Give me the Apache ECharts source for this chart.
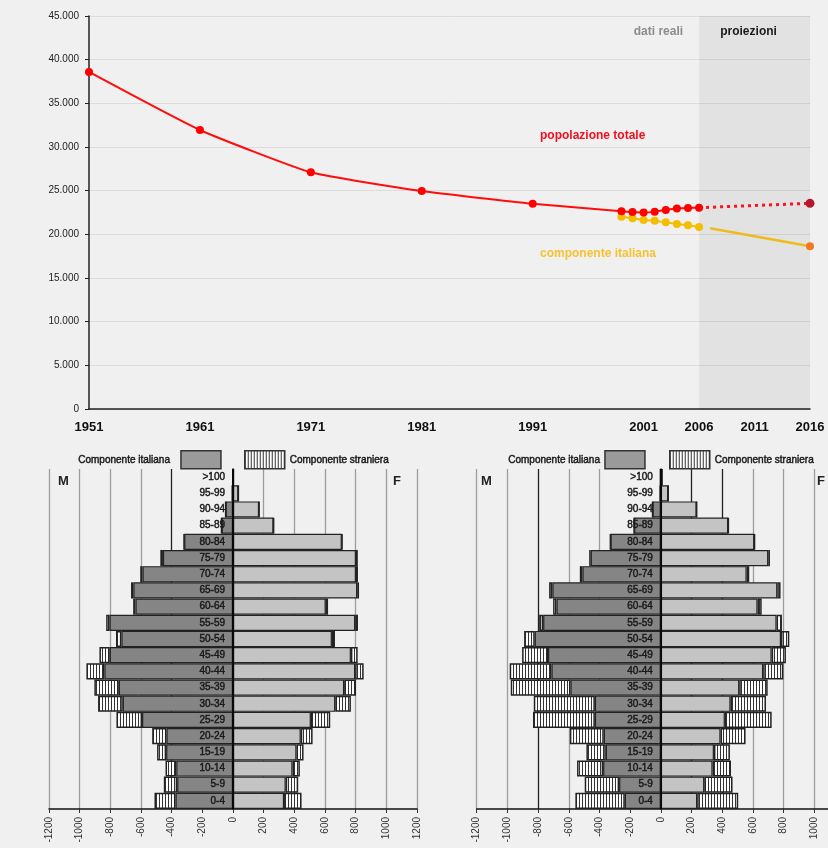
<!DOCTYPE html>
<html><head><meta charset="utf-8">
<script src="https://cdn.jsdelivr.net/npm/echarts@6/dist/echarts.min.js"></script>
<style>html,body{margin:0;padding:0;background:#f0f0f0;}#c{width:828px;height:848px;}</style>
</head><body><div id="c"></div>
<script>
// ---- top chart data ----
const years = [1951, 1961, 1971, 1981, 1991, 1999, 2000, 2001, 2002, 2003, 2004, 2005, 2006];
const totalPop = [38600, 31950, 27100, 24950, 23500, 22650, 22550, 22500, 22600, 22800, 22950, 23020, 23050];
const italianYears = [1999, 2000, 2001, 2002, 2003, 2004, 2005, 2006];
const italianPop = [22020, 21830, 21640, 21560, 21370, 21180, 21030, 20840];
const totalProjYears = [2006, 2016];
const totalProj = [23050, 23550];
const italianProjYears = [2007, 2016];
const italianProj = [20700, 18630];
const yearTicks = [1951, 1961, 1971, 1981, 1991, 2001, 2006, 2011, 2016];

// ---- pyramids (bottom 0-4 to top >100) ----
const ageGroups = ['0-4','5-9','10-14','15-19','20-24','25-29','30-34','35-39','40-44','45-49','50-54','55-59','60-64','65-69','70-74','75-79','80-84','85-89','90-94','95-99','>100'];
// left pyramid
const m1Ita = [375,364,370,436,434,593,719,745,839,804,728,805,636,650,590,457,318,74,48,5,1];
const m1For = [137,87,70,59,93,167,161,159,117,67,35,22,15,15,15,17,3,2,0,0,0];
const f1Ita = [333,344,388,414,442,508,667,725,797,769,645,797,605,810,802,802,710,264,170,35,2];
const f1For = [114,81,48,46,77,126,102,77,55,44,20,18,15,12,13,12,3,2,1,0,0];
// right pyramid
const m2Ita = [235,272,376,359,372,430,430,589,713,735,822,767,680,707,511,457,328,174,54,5,3];
const m2For = [322,224,170,126,221,403,398,389,272,169,69,26,22,21,17,10,2,1,0,0,0];
const f2Ita = [237,283,337,346,389,417,454,511,667,722,783,754,630,759,559,700,609,439,233,48,8];
const f2For = [267,184,120,104,163,305,231,185,131,93,54,35,27,21,17,11,3,2,1,0,0];

function stripeCanvas(){
  const c = document.createElement('canvas'); c.width = 3; c.height = 10;
  const g = c.getContext('2d');
  g.fillStyle = '#ffffff'; g.fillRect(0,0,3,10);
  g.fillStyle = '#333333'; g.fillRect(0,0,1,10);
  return c;
}
const stripe = {image: stripeCanvas(), repeat: 'repeat'};
const sans = "'Liberation Sans',Arial,sans-serif";
const GRAY = '#9c9c9c', DARK = '#222', NONE = 'rgba(0,0,0,0)';

function pyrX(idx, colors){
  return {
    type:'value', gridIndex: idx, min:-1200, max:1200, interval:200,
    axisLine:{show:true, onZero:false, lineStyle:{color:'#111', width:1.5}},
    axisTick:{show:true, length:4, lineStyle:{color:'#333'}},
    axisLabel:{rotate:90, fontSize:10, color:'#333', margin:8, fontFamily:sans, formatter: v => String(v)},
    splitLine:{show:true, lineStyle:{color: colors, width:1.3}}
  };
}
function pyrY(idx, off){
  return {
    type:'category', gridIndex: idx, data: ageGroups, z: 10, offset: off,
    axisLine:{show:true, onZero:false, lineStyle:{color:'#000', width:1.5}},
    axisTick:{show:false},
    axisLabel:{fontSize:10, color:'#1a1a1a', margin:8, fontFamily:sans, textBorderColor:'#1a1a1a', textBorderWidth:0.45},
    splitLine:{show:false}
  };
}
function pyrSeries(idx, mIta, mFor, fIta, fFor){
  const common = {type:'bar', xAxisIndex: idx, yAxisIndex: idx, stack:'pyr'+idx, barCategoryGap:'0%', silent:true};
  return [
    Object.assign({}, common, {name:'Componente italiana', data: mIta.map(v => -v), itemStyle:{color:'#858585', borderColor:'#222', borderWidth:1.2}}),
    Object.assign({}, common, {name:'Componente straniera', data: mFor.map(v => -v), itemStyle:{color:stripe, borderColor:'#222', borderWidth:1.5}}),
    Object.assign({}, common, {name:'F italiana', data: fIta, itemStyle:{color:'#c4c4c4', borderColor:'#222', borderWidth:1.2}}),
    Object.assign({}, common, {name:'F straniera', data: fFor, itemStyle:{color:stripe, borderColor:'#222', borderWidth:1.5}})
  ];
}
function legend(left, name, align, style, pad){
  return {left: left, top: 450, padding:0, orient:'horizontal', align: align, icon:'rect', itemWidth:40, itemHeight:18, selectedMode:false,
    textStyle:{fontSize:10, color:'#1a1a1a', fontFamily: sans, textBorderColor:'#1a1a1a', textBorderWidth:0.45, padding: pad},
    data:[{name: name, itemStyle: style}]};
}
const itaLegendStyle = {color:'#9a9a9a', borderColor:'#333', borderWidth:1.5};
const forLegendStyle = {color:stripe, borderColor:'#333', borderWidth:1.5};

const chart = echarts.init(document.getElementById('c'));
chart.setOption({
  animation:false,
  backgroundColor:'#f0f0f0',
  grid:[
    {left:89, top:16, width:721, height:393, outerBoundsMode:'none', containLabel:false},
    {left:49, top:469, width:368, height:340, outerBoundsMode:'none', containLabel:false},
    {left:476.7, top:469, width:368.3, height:340, outerBoundsMode:'none', containLabel:false}
  ],
  legend:[
    legend(78, 'Componente italiana', 'right', itaLegendStyle, [0,6,0,0]),
    legend(244, 'Componente straniera', 'left', forLegendStyle, 0),
    legend(508, 'Componente italiana', 'right', itaLegendStyle, 0),
    legend(669, 'Componente straniera', 'left', forLegendStyle, 0)
  ],
  xAxis:[
    {type:'value', gridIndex:0, min:1951, max:2016,
     axisLine:{show:true, lineStyle:{color:'#222', width:1.5}},
     axisTick:{show:false},
     splitLine:{show:false},
     axisLabel:{customValues: yearTicks, fontSize:13, fontWeight:'bold', color:'#111', margin:12, fontFamily:sans, formatter: v => String(v)}},
    pyrX(1, [GRAY,GRAY,GRAY,GRAY,DARK,NONE,'#000',GRAY,GRAY,GRAY,GRAY,GRAY,GRAY]),
    pyrX(2, [GRAY,GRAY,DARK,GRAY,GRAY,NONE,'#000',DARK,DARK,GRAY,GRAY,GRAY,GRAY])
  ],
  yAxis:[
    {type:'value', gridIndex:0, min:0, max:45000, interval:5000,
     axisLine:{show:true, lineStyle:{color:'#222', width:1.5}},
     axisTick:{show:true, length:4, lineStyle:{color:'#222'}},
     splitLine:{show:true, lineStyle:{color:'#dcdcdc', width:1}},
     axisLabel:{fontSize:10, color:'#222', margin:10, fontFamily:sans,
       formatter: v => v === 0 ? '0' : (v/1000) + '.000'}},
    pyrY(1, -184), pyrY(2, -184.15)
  ],
  series:[
    {type:'line', name:'componente italiana', xAxisIndex:0, yAxisIndex:0, z:3,
     data: italianYears.map((y,i) => [y, italianPop[i]]),
     symbol:'circle', symbolSize:8, lineStyle:{color:'#f5bd00', width:2}, itemStyle:{color:'#f5bd00'}},
    {type:'line', name:'italiana proiezione', xAxisIndex:0, yAxisIndex:0, z:3,
     data: italianProjYears.map((y,i) => ({value:[y, italianProj[i]], symbol: i === 0 ? 'none' : 'circle'})),
     symbolSize:8, lineStyle:{color:'#efbb1a', width:2.5}, itemStyle:{color:'#f07a22'}},
    {type:'line', name:'totale proiezione', xAxisIndex:0, yAxisIndex:0, z:4,
     data: totalProjYears.map((y,i) => ({value:[y, totalProj[i]], symbol: i === 0 ? 'none' : 'circle'})),
     symbolSize:9, lineStyle:{color:'#ff1020', width:3, type:[3,4]}, itemStyle:{color:'#b3192a'}},
    {type:'line', name:'popolazione totale', xAxisIndex:0, yAxisIndex:0, z:5,
     data: years.map((y,i) => [y, totalPop[i]]), smooth:0.15,
     symbol:'circle', symbolSize:8, lineStyle:{color:'#ff0d0d', width:2}, itemStyle:{color:'#ff0000'},
     markArea:{silent:true, data:[
       [{name:'dati reali', xAxis:1951, itemStyle:{color:NONE}, label:{position:'insideTopRight', distance:10, offset:[-6,0], color:'#8c8c8c', fontSize:12, fontWeight:'bold'}}, {xAxis:2006}],
       [{name:'proiezioni', xAxis:2006, itemStyle:{color:'rgba(0,0,0,0.055)'}, label:{position:'insideTop', distance:10, offset:[-6,0], color:'#1a1a1a', fontSize:12, fontWeight:'bold'}}, {xAxis:2016}]
     ]}},
    ...pyrSeries(1, m1Ita, m1For, f1Ita, f1For),
    ...pyrSeries(2, m2Ita, m2For, f2Ita, f2For)
  ],
  graphic:[
    {type:'text', left:540, top:130, style:{text:'popolazione totale', fill:'#f01020', font:'bold 12px Liberation Sans, Arial, sans-serif'}},
    {type:'text', left:540, top:248, style:{text:'componente italiana', fill:'#f5c232', font:'bold 12px Liberation Sans, Arial, sans-serif'}},
    {type:'text', left:58, top:475, style:{text:'M', fill:'#222', font:'bold 13px Liberation Sans, Arial, sans-serif'}},
    {type:'text', left:393, top:475, style:{text:'F', fill:'#222', font:'bold 13px Liberation Sans, Arial, sans-serif'}},
    {type:'text', left:481, top:475, style:{text:'M', fill:'#222', font:'bold 13px Liberation Sans, Arial, sans-serif'}},
    {type:'text', left:817, top:475, style:{text:'F', fill:'#222', font:'bold 13px Liberation Sans, Arial, sans-serif'}}
  ]
});
</script>
</body></html>
